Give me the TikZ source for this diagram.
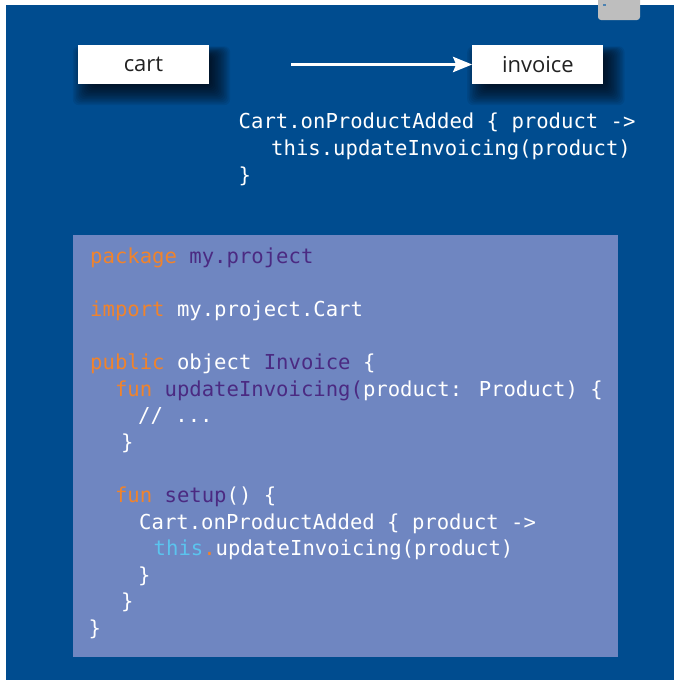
\documentclass[tikz,border=0pt]{standalone}
\usepackage{fontspec}
\setmainfont{Open Sans}
\newfontfamily\codefont{DejaVu Sans Mono}
\usetikzlibrary{arrows.meta, positioning, backgrounds}
\definecolor{pageblue}{HTML}{004C8F}
\definecolor{panelblue}{HTML}{6F86C1}
\definecolor{kworange}{HTML}{F0832C}
\definecolor{idpurple}{HTML}{4B2A82}
\definecolor{slfcyan}{HTML}{5BC4EE}
\definecolor{boxtext}{HTML}{222222}
\definecolor{tabgray}{HTML}{BEBEBE}
\newcommand{\kwd}[1]{\textcolor{kworange}{#1}}
\newcommand{\idt}[1]{\textcolor{idpurple}{#1}}
\newcommand{\slf}[1]{\textcolor{slfcyan}{#1}}
\tikzstyle{module}   = [rectangle, fill=white, minimum width=131pt, minimum height=39pt,
                        inner sep=0pt, text=boxtext, font=\fontsize{22pt}{26pt}\selectfont]
\tikzstyle{codebox}  = [rectangle, fill=panelblue, inner sep=0pt, anchor=north west]
\tikzstyle{codeline} = [anchor=base west, inner sep=0pt, text=white,
                        font=\codefont\fontsize{20.6pt}{27pt}\selectfont]
\tikzstyle{arrow}    = [-{Stealth[length=19pt, width=15pt, inset=3pt]}, line width=3.6pt, white]

\begin{document}
\begin{tikzpicture}[x=1pt, y=-1pt]
    \useasboundingbox (0,0) rectangle (676,683);

    % Modules
    \node (cart) [module] at (143.5,64.5) {cart};
    \node (invoice) [module, right=263pt of cart] {invoice};
    \draw[arrow, shorten <=82pt] (cart) -- (invoice);

    % Snippet next to the arrow
    \node (hint1) [codeline] at (238.5,128) {Cart.onProductAdded \{ product ->};
    \node (hint2) [codeline] at (271,155) {this.updateInvoicing(product)};
    \node (hint3) [codeline] at (238.5,182) {\}};

    % Source listing
    \node (panel) [codebox, minimum width=545pt, minimum height=422pt] at (73,235) {};
    \node (l1)  [codeline] at (90,263)      {\kwd{package} \idt{my.project}};
    \node (l2)  [codeline] at (90,316.2)    {\kwd{import} my.project.Cart};
    \node (l3)  [codeline] at (90,369.4)    {\kwd{public} object \idt{Invoice} \{};
    \node (l4)  [codeline] at (114.8,396)   {\kwd{fun} \idt{updateInvoicing(}product: Product) \{};
    \node (l5)  [codeline] at (138,422.6)   {// ...};
    \node (l6)  [codeline] at (121,449.2)   {\}};
    \node (l7)  [codeline] at (114.8,502.4) {\kwd{fun} \idt{setup}() \{};
    \node (l8)  [codeline] at (139,529)     {Cart.onProductAdded \{ product ->};
    \node (l9)  [codeline] at (153.5,555.6) {\slf{this}\kwd{.}updateInvoicing(product)};
    \node (l10) [codeline] at (138,582.2)   {\}};
    \node (l11) [codeline] at (121,608.8)   {\}};
    \node (l12) [codeline] at (88.5,635.4)  {\}};

    % Background, tab and soft shadows
    \begin{scope}[on background layer]
        \fill[pageblue] (6,5) rectangle (674,680);
        \fill[tabgray, rounded corners=3pt] (598,-6) rectangle (640,20);
        \fill[pageblue!70] (603,4) rectangle (606,6);
        \foreach \b in {cart, invoice}
            \foreach \e in {-8,-6.5,...,14}
                \fill[black, opacity=0.075, rounded corners=6pt]
                    ([shift={(8-\e,8+\e)}]\b.south west) rectangle ([shift={(8+\e,8-\e/2)}]\b.north east);
    \end{scope}
\end{tikzpicture}
\end{document}
